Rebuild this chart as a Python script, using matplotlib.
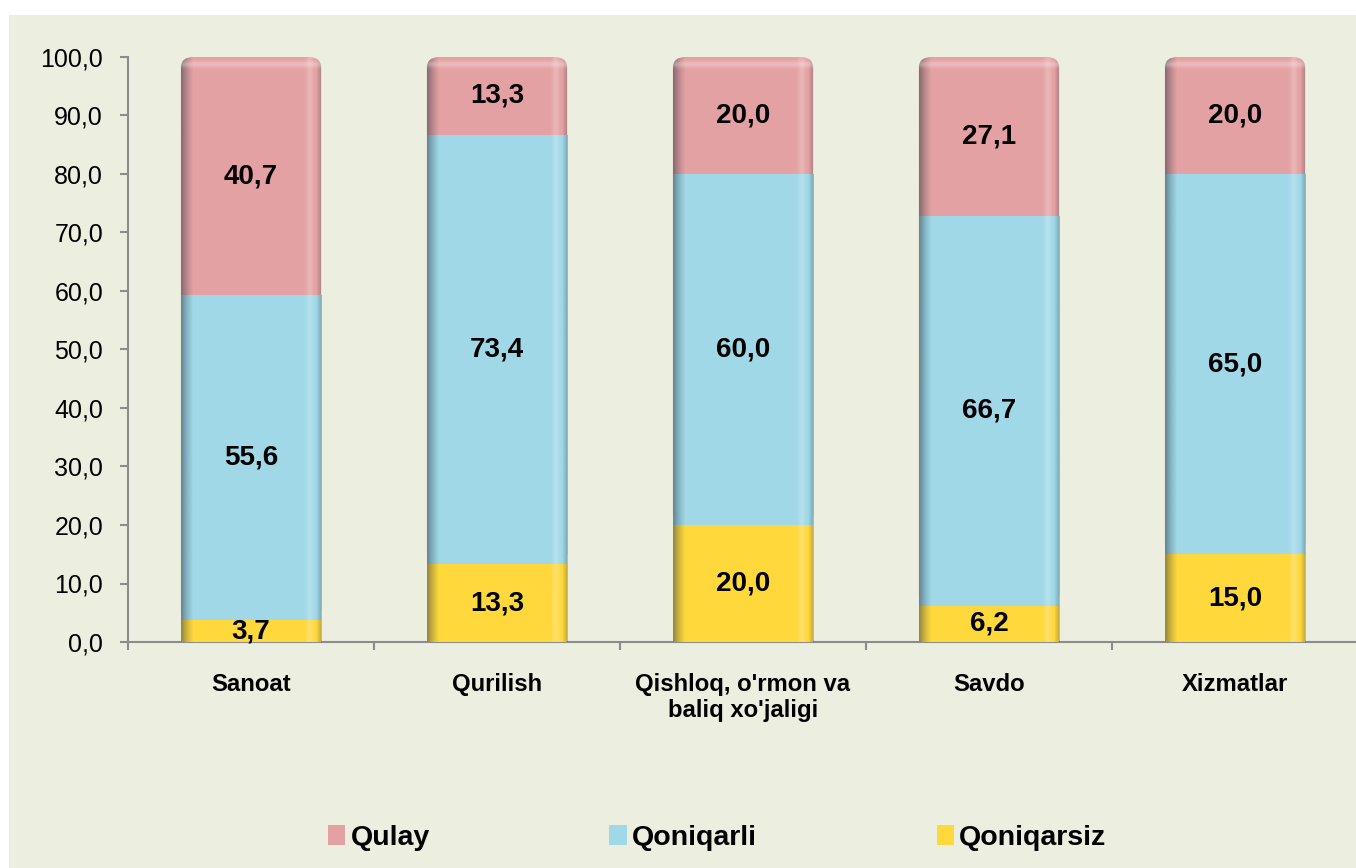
import numpy as np
import matplotlib
matplotlib.use('Agg')
import matplotlib.pyplot as plt
from matplotlib.patches import Rectangle, FancyBboxPatch, Patch
import matplotlib.ticker as ticker

# data
categories = ['Sanoat', 'Qurilish', "Qishloq, o'rmon va\nbaliq xo'jaligi", 'Savdo', 'Xizmatlar']
qoniqarsiz = [3.7, 13.3, 20.0, 6.2, 15.0]
qoniqarli = [55.6, 73.4, 60.0, 66.7, 65.0]
qulay = [40.7, 13.3, 20.0, 27.1, 20.0]
series_names = ['Qulay', 'Qoniqarli', 'Qoniqarsiz']

c_qulay = '#E4A1A3'
c_qoniqarli = '#A0D8E8'
c_qoniqarsiz = '#FFD83C'
panel_bg = '#ECEFDF'

plt.rcParams['font.family'] = ['Liberation Sans', 'DejaVu Sans']

fig = plt.figure(figsize=(13.56, 8.68), dpi=100)
fig.patch.set_facecolor('white')
fig.patches.append(Rectangle((9 / 1356, 0), 1, 1 - 15 / 868, transform=fig.transFigure,
                             facecolor=panel_bg, edgecolor='none', zorder=-10))

ax = fig.add_axes([128 / 1356, 1 - 642 / 868, 1230 / 1356, (642 - 57) / 868])
ax.set_facecolor('none')

# horizontal bevel shading (dark left edge, soft highlight near right edge)
def shade_array():
    n = 300
    t = np.linspace(0, 1, n)
    arr = np.zeros((1, n, 4))
    dark = np.clip(1 - t / 0.09, 0, 1) ** 1.3 * 0.5
    edge = np.clip((t - 0.96) / 0.04, 0, 1) * 0.3
    hl = np.exp(-((t - 0.915) / 0.025) ** 2) * 0.22
    for i in range(n):
        if dark[i] > 0.01 or edge[i] > 0.01:
            arr[0, i] = [0.15, 0.2, 0.25, max(dark[i], edge[i])]
        else:
            arr[0, i] = [1, 1, 1, hl[i]]
    return arr

# vertical highlight band just under the rounded top
def top_array():
    n = 100
    t = np.linspace(0, 1, n)  # 0 bottom .. 1 top
    arr = np.ones((n, 1, 4))
    arr[:, 0, 3] = np.exp(-((t - 0.6) / 0.18) ** 2) * 0.28
    return arr[::-1]

shade = shade_array()
topband = top_array()

def add_shade(patch, x0, x1, y0, y1):
    im = ax.imshow(shade, extent=(x0, x1, y0, y1), aspect='auto', zorder=patch.get_zorder() + 0.1,
                   interpolation='bilinear')
    im.set_clip_path(patch)

x = np.arange(len(categories))
w = 0.57

for i in x:
    b0 = qoniqarsiz[i]
    b1 = qoniqarsiz[i] + qoniqarli[i]
    top = b1 + qulay[i]
    # top segment with rounded corners (bottom corners hidden under blue)
    fb = FancyBboxPatch((i - w / 2, b0), w, top - b0,
                        boxstyle='round,pad=0,rounding_size=0.05', mutation_aspect=38,
                        facecolor=c_qulay, edgecolor='none', zorder=2)
    ax.add_patch(fb)
    add_shade(fb, i - w / 2, i + w / 2, b0, top)
    im = ax.imshow(topband, extent=(i - w / 2, i + w / 2, top - 3.0, top), aspect='auto',
                   zorder=2.2, interpolation='bilinear')
    im.set_clip_path(fb)
    r1 = Rectangle((i - w / 2, b0), w, b1 - b0, facecolor=c_qoniqarli, edgecolor='none', zorder=3)
    ax.add_patch(r1)
    add_shade(r1, i - w / 2, i + w / 2, b0, b1)
    r0 = Rectangle((i - w / 2, 0), w, b0, facecolor=c_qoniqarsiz, edgecolor='none', zorder=3)
    ax.add_patch(r0)
    add_shade(r0, i - w / 2, i + w / 2, 0, b0)

    for val, mid in [(qoniqarsiz[i], b0 / 2), (qoniqarli[i], (b0 + b1) / 2), (qulay[i], (b1 + top) / 2)]:
        ax.text(i, mid, ('%.1f' % val).replace('.', ','), ha='center', va='center',
                fontsize=20, fontweight='bold', color='black', zorder=5)

ax.set_xlim(-0.5, len(categories) - 0.5)
ax.set_ylim(0, 100)

for s in ['top', 'right']:
    ax.spines[s].set_visible(False)
for s in ['left', 'bottom']:
    ax.spines[s].set_color('#8C8C8C')
    ax.spines[s].set_linewidth(1.5)

ax.yaxis.set_major_locator(ticker.MultipleLocator(10))
ax.yaxis.set_major_formatter(ticker.FuncFormatter(lambda v, p: ('%.1f' % v).replace('.', ',')))
ax.tick_params(axis='y', direction='out', length=6, width=1.5, color='#8C8C8C',
               labelsize=18, pad=12)

ax.set_xticks(np.arange(-0.5, len(categories), 1.0))
ax.set_xticklabels([])
ax.set_xticks(x, minor=True)
ax.set_xticklabels(categories, minor=True, fontsize=17.2, fontweight='bold')
ax.tick_params(axis='x', which='major', direction='out', length=6, width=1.5, color='#8C8C8C')
ax.tick_params(axis='x', which='minor', length=0, pad=22)

handles = [Patch(facecolor=c_qulay, edgecolor='none'),
           Patch(facecolor=c_qoniqarli, edgecolor='none'),
           Patch(facecolor=c_qoniqarsiz, edgecolor='none')]
fig.legend(handles, series_names, loc='center', bbox_to_anchor=(0.529, 1 - 838 / 868), ncol=3,
           frameon=False, prop={'size': 20.5, 'weight': 'bold'}, handlelength=0.6, handleheight=0.66,
           handletextpad=0.2, columnspacing=6.3)

fig.savefig('out.png', dpi=100, facecolor='white')
